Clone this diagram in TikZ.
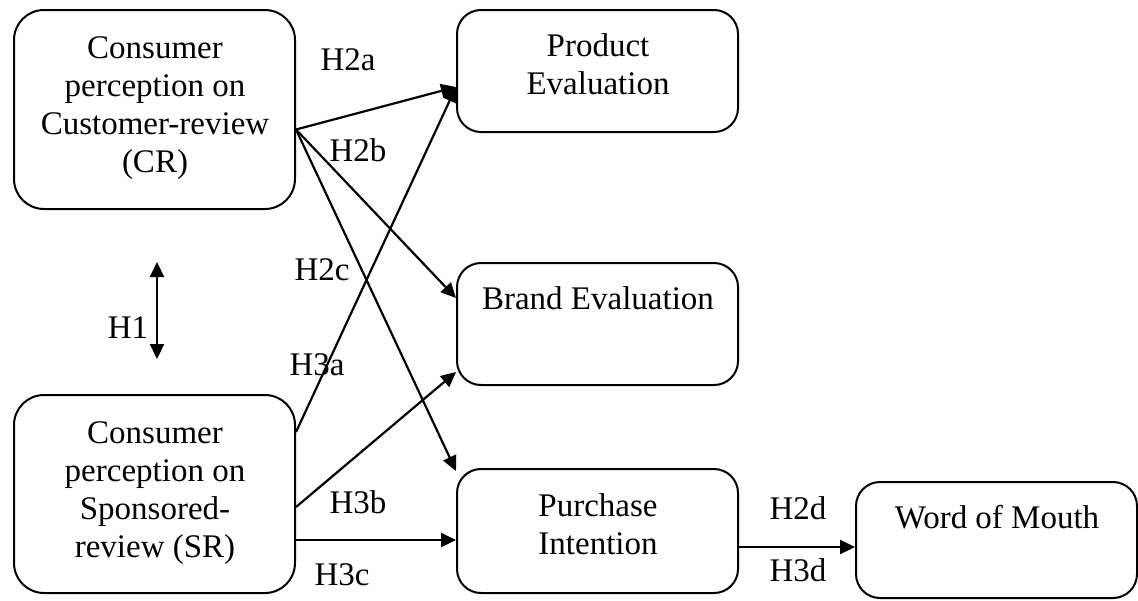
\documentclass[tikz,border=0pt]{standalone}
\usepackage{fontspec}
\setmainfont{Liberation Serif}
\usetikzlibrary{arrows.meta}

\begin{document}
\begin{tikzpicture}[
    x=0.5pt, y=-0.5pt,
    >={Triangle[length=7.5pt, width=7pt]},
    box/.style={draw, rounded corners=12pt, line width=1pt, minimum width=140.5pt, inner sep=0pt},
    txt/.style={align=center, inner sep=0pt, font=\fontsize{16.5}{19}\selectfont},
    hyp/.style={inner sep=0pt, font=\fontsize{16.5}{19}\selectfont},
    arr/.style={->, line width=1.1pt}
]
\useasboundingbox (0,0) rectangle (1138,600);

% boxes
\node[box, rounded corners=15pt, minimum height=99.5pt] (cr) at (154.5,109.5) {};
\node[box, rounded corners=15pt, minimum height=99pt] (sr) at (154.5,494) {};
\node[box, minimum height=61pt] (pe) at (597.5,71) {};
\node[box, minimum height=61pt] (be) at (597.5,324) {};
\node[box, minimum height=62pt] (pi) at (597.5,531) {};
\node[box, minimum height=58pt] (wom) at (996.5,540) {};

% box texts
\node[txt] (crtext) at (155,108) {Consumer\\perception on\\Customer-review\\(CR)};
\node[txt] (srtext) at (155,493) {Consumer\\perception on\\Sponsored-\\review (SR)};
\node[txt] (petext) at (598,64) {Product\\Evaluation};
\node[txt] (betext) at (598,298) {Brand Evaluation};
\node[txt] (pitext) at (598,524) {Purchase\\Intention};
\node[txt] (womtext) at (997,517) {Word of Mouth};

% hypotheses
\node[hyp] (h1) at (128,328) {H1};
\node[hyp] (h2a) at (348,60) {H2a};
\node[hyp] (h2b) at (358,150) {H2b};
\node[hyp] (h2c) at (322,270) {H2c};
\node[hyp] (h3a) at (317,365) {H3a};
\node[hyp] (h3b) at (358,502) {H3b};
\node[hyp] (h3c) at (342,575) {H3c};
\node[hyp] (h2d) at (798,508) {H2d};
\node[hyp] (h3d) at (798,570) {H3d};

\coordinate (h1top) at (157,262);
\coordinate (h1bot) at (157,359);

\draw[arr, <->] (h1top) -- (h1bot);
\draw[arr] ([yshift=-10pt]cr.east) -- ([yshift=-8pt]pe.west);
\draw[arr] ([yshift=-10pt]cr.east) -- ([yshift=13pt]be.west);
\draw[arr] ([yshift=-10pt]cr.east) -- ([yshift=-1.5pt]pi.north west);
\draw[arr] ([yshift=31pt]sr.east) -- ([yshift=-8pt]pe.west);
\draw[arr] ([yshift=-6.5pt]sr.east) -- ([yshift=-24pt]be.west);
\draw[arr] ([yshift=-23pt]sr.east) -- ([yshift=-4.5pt]pi.west);
\draw[arr] ([yshift=-8pt]pi.east) -- ([yshift=-3.5pt]wom.west);
\end{tikzpicture}
\end{document}
